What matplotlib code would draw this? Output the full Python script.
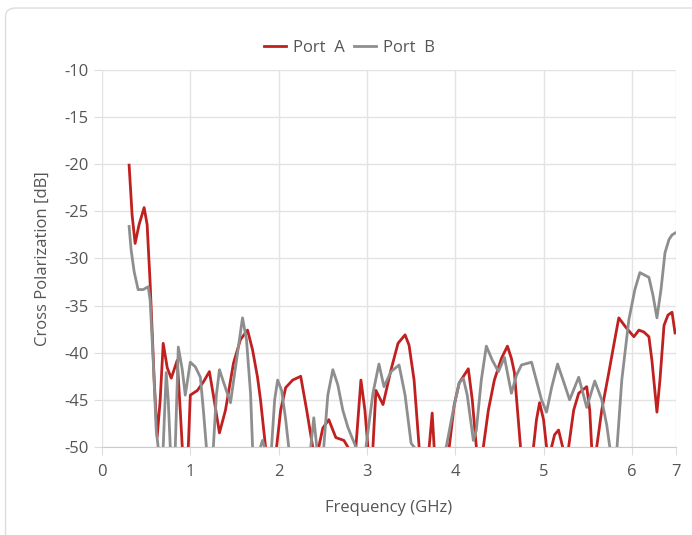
import numpy as np
import matplotlib.pyplot as plt
from matplotlib.patches import FancyBboxPatch

# Port A (vermelho): pares (frequencia GHz, cross-pol dB)
port_a = [
    (0.307, -20.1), (0.341, -25.4), (0.375, -28.4), (0.420, -26.4), (0.477, -24.6),
    (0.511, -26.4), (0.545, -32.6), (0.591, -42.9), (0.625, -48.9), (0.659, -45.0),
    (0.693, -39.0), (0.739, -41.6), (0.784, -42.7), (0.852, -40.8), (0.886, -46.1),
    (0.909, -50.0), (0.943, -52.4), (0.977, -50.0), (1.000, -44.5), (1.080, -44.0),
    (1.148, -43.1), (1.216, -42.0), (1.261, -44.5), (1.330, -48.5), (1.398, -46.1),
    (1.489, -41.1), (1.568, -38.6), (1.648, -37.6), (1.705, -39.7), (1.761, -42.6),
    (1.795, -45.0), (1.852, -50.0), (1.909, -52.4), (1.977, -50.0), (2.023, -46.1),
    (2.080, -43.7), (2.159, -42.9), (2.250, -42.5), (2.318, -46.1), (2.386, -50.0),
    (2.420, -52.4), (2.455, -50.0), (2.500, -48.0), (2.568, -47.1), (2.614, -48.2),
    (2.648, -49.0), (2.739, -49.3), (2.784, -50.0), (2.830, -52.4), (2.875, -50.0),
    (2.932, -42.9), (2.977, -46.1), (3.011, -50.0), (3.034, -51.9), (3.068, -50.0),
    (3.102, -44.0), (3.182, -45.5), (3.273, -41.8), (3.352, -39.0), (3.432, -38.1),
    (3.477, -39.2), (3.534, -42.9), (3.591, -50.0), (3.648, -52.4), (3.705, -50.0),
    (3.739, -46.4), (3.761, -50.0), (3.841, -52.4), (3.932, -50.0), (3.989, -45.5),
    (4.045, -43.2), (4.148, -41.7), (4.193, -45.0), (4.239, -50.0), (4.273, -52.4),
    (4.318, -50.0), (4.375, -46.1), (4.443, -42.9), (4.523, -40.6), (4.591, -39.3),
    (4.636, -40.6), (4.670, -42.1), (4.705, -46.1), (4.739, -50.0), (4.807, -52.4),
    (4.886, -50.0), (4.920, -47.1), (4.955, -45.3), (5.000, -47.1), (5.034, -50.0),
    (5.057, -50.5), (5.091, -50.0), (5.125, -48.7), (5.170, -48.2), (5.216, -50.0),
    (5.250, -51.4), (5.284, -50.0), (5.341, -46.1), (5.398, -44.3), (5.489, -43.6),
    (5.523, -46.1), (5.545, -50.0), (5.568, -51.4), (5.602, -50.0), (5.659, -46.1),
    (5.739, -42.1), (5.795, -39.2), (5.852, -36.3), (5.932, -37.3), (6.023, -38.3),
    (6.080, -37.6), (6.136, -37.8), (6.193, -38.3), (6.227, -40.8), (6.284, -46.3),
    (6.318, -42.9), (6.364, -37.1), (6.409, -36.0), (6.455, -35.7), (6.489, -37.9),
]

# Port B (cinza)
port_b = [
    (0.307, -26.6), (0.330, -29.1), (0.364, -31.4), (0.409, -33.3), (0.466, -33.3),
    (0.523, -33.0), (0.545, -34.4), (0.580, -40.8), (0.614, -48.2), (0.636, -50.0),
    (0.670, -51.6), (0.693, -50.0), (0.727, -42.1), (0.750, -45.0), (0.773, -50.0),
    (0.807, -51.6), (0.830, -50.0), (0.864, -39.4), (0.909, -41.8), (0.943, -44.5),
    (1.000, -41.0), (1.057, -41.5), (1.114, -42.6), (1.148, -46.1), (1.182, -50.0),
    (1.216, -51.6), (1.261, -50.0), (1.295, -44.5), (1.330, -41.8), (1.386, -43.4),
    (1.455, -45.3), (1.523, -40.8), (1.591, -36.3), (1.636, -38.6), (1.682, -44.3),
    (1.705, -50.0), (1.750, -52.4), (1.795, -50.0), (1.818, -49.3), (1.841, -50.0),
    (1.886, -52.4), (1.920, -50.0), (1.955, -45.0), (1.989, -42.9), (2.034, -44.0),
    (2.080, -47.1), (2.114, -50.0), (2.239, -52.4), (2.364, -50.0), (2.398, -46.9),
    (2.432, -50.0), (2.477, -51.4), (2.511, -50.0), (2.557, -44.5), (2.614, -41.8),
    (2.670, -43.4), (2.727, -46.1), (2.784, -47.9), (2.818, -48.7), (2.875, -50.0),
    (2.932, -52.4), (2.989, -50.0), (3.068, -44.3), (3.136, -41.2), (3.193, -43.6),
    (3.273, -42.0), (3.364, -41.3), (3.432, -44.5), (3.500, -49.6), (3.534, -50.0),
    (3.727, -52.4), (3.898, -50.0), (3.977, -46.1), (4.045, -43.2), (4.091, -42.7),
    (4.136, -44.5), (4.205, -49.3), (4.239, -48.2), (4.295, -42.9), (4.352, -39.3),
    (4.420, -40.8), (4.489, -42.0), (4.557, -40.5), (4.636, -44.3), (4.693, -42.4),
    (4.750, -41.3), (4.864, -41.0), (4.932, -43.4), (4.977, -45.0), (5.034, -46.3),
    (5.091, -43.7), (5.159, -41.2), (5.239, -43.4), (5.295, -45.0), (5.398, -42.6),
    (5.489, -45.8), (5.580, -43.0), (5.659, -45.0), (5.716, -47.7), (5.750, -50.0),
    (5.784, -51.9), (5.830, -50.3), (5.886, -42.9), (5.966, -36.5), (6.034, -33.3),
    (6.091, -31.5), (6.193, -32.0), (6.239, -33.9), (6.284, -36.3), (6.330, -33.3),
    (6.375, -29.4), (6.420, -28.0), (6.455, -27.5), (6.489, -27.3),
]

freq_a = [p[0] for p in port_a]
xpol_a = [p[1] for p in port_a]
freq_b = [p[0] for p in port_b]
xpol_b = [p[1] for p in port_b]

x_ticks = [0, 1, 2, 3, 4, 5, 6, 6.5]
x_labels = ["0", "1", "2", "3", "4", "5", "6", "7"]
y_ticks = [-10, -15, -20, -25, -30, -35, -40, -45, -50]

plt.rcParams["font.family"] = ["Open Sans", "DejaVu Sans"]
plt.rcParams["axes.unicode_minus"] = False

fig = plt.figure(figsize=(6.92, 5.35), dpi=100)
fig.patch.set_facecolor("white")
borda = FancyBboxPatch((0.008, -0.05), 1.1, 1.035, transform=fig.transFigure,
                       boxstyle="round,pad=0,rounding_size=0.015",
                       facecolor="none", edgecolor="#dddddd", linewidth=1, zorder=-1)
fig.patches.append(borda)

ax = fig.add_axes([0.1474, 0.1645, 0.8295, 0.7047])
ax.plot(freq_a, xpol_a, color="#c0201f", lw=2.0, label="Port  A", solid_joinstyle="round")
ax.plot(freq_b, xpol_b, color="#8e8e8e", lw=2.0, label="Port  B", solid_joinstyle="round")

ax.set_xlim(0, 6.5)
ax.set_ylim(-50, -10)
ax.set_xticks(x_ticks)
ax.set_xticklabels(x_labels)
ax.set_yticks(y_ticks)
ax.grid(True, color="#e3e3e3", lw=1)
ax.set_axisbelow(True)
for s in ["top", "right", "left"]:
    ax.spines[s].set_visible(False)
ax.spines["bottom"].set_color("#cccccc")
ax.tick_params(colors="#dddddd", labelcolor="#555555", labelsize=12, length=6)
ax.tick_params(axis="x", pad=6)
ax.set_xlabel("Frequency (GHz)", fontsize=12, color="#555555", labelpad=15)
ax.set_ylabel("Cross Polarization [dB]", fontsize=12, color="#555555", labelpad=10)

leg = fig.legend(loc="center", bbox_to_anchor=(0.505, 0.91), ncol=2, frameon=False,
                 fontsize=12, handlelength=1.3, columnspacing=0.6, handletextpad=0.4)
for t in leg.get_texts():
    t.set_color("#555555")

fig.savefig("out.png", dpi=100)
